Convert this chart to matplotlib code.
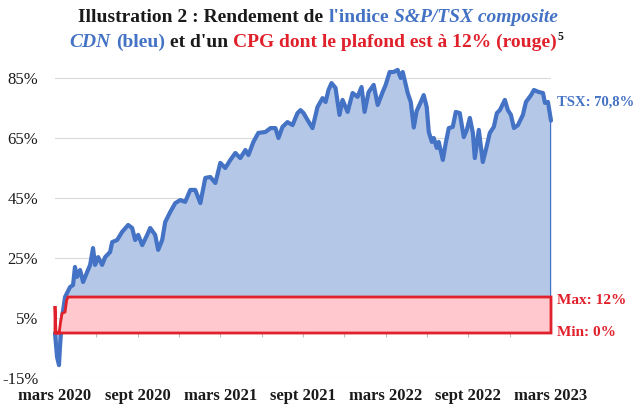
import matplotlib
matplotlib.use('Agg')
import matplotlib.pyplot as plt
import numpy as np

# months elapsed since March 2020, and cumulative TSX return (%)
mois = [0, 0.15, 0.29, 0.36, 0.51, 0.73, 0.95, 1.09, 1.31, 1.45, 1.6, 1.82, 2.04, 2.33,
        2.55, 2.76, 2.91, 3.13, 3.42, 3.64, 4.0, 4.15, 4.51, 4.87, 5.31, 5.6, 5.82, 6.04,
        6.33, 6.69, 6.91, 7.27, 7.49, 7.78, 8.0, 8.36, 8.73, 9.09, 9.45, 9.82, 10.18, 10.55,
        10.91, 11.27, 11.64, 12.0, 12.36, 12.73, 13.09, 13.45, 13.82, 14.04, 14.4, 14.76,
        15.27, 15.64, 16.0, 16.22, 16.51, 16.87, 17.24, 17.6, 17.82, 18.04, 18.33, 18.69,
        19.05, 19.42, 19.64, 19.85, 20.07, 20.36, 20.65, 20.87, 21.24, 21.6, 21.96, 22.25,
        22.47, 22.76, 23.13, 23.42, 23.78, 24.0, 24.29, 24.58, 24.87, 25.09, 25.24, 25.6,
        25.82, 26.04, 26.25, 26.55, 26.76, 26.98, 27.13, 27.35, 27.49, 27.71, 27.85, 28.15,
        28.36, 28.58, 28.87, 29.09, 29.38, 29.67, 29.89, 30.11, 30.33, 30.47, 30.76, 31.05,
        31.27, 31.56, 31.85, 32.07, 32.29, 32.65, 32.87, 33.09, 33.31, 33.6, 33.96, 34.18,
        34.55, 34.76, 35.13, 35.42, 35.56, 35.78, 35.85, 36.0]
tsx = [0, -8, -10.7, -4.7, 5, 12, 14, 15.3, 16, 22, 18.7, 21, 17, 20.3,
       22.7, 28.3, 22.7, 25.3, 22.7, 25.3, 27, 30.3, 31, 33.7, 36, 35, 31, 32.7,
       29.3, 32.7, 35, 32.7, 27.7, 31, 37, 40.3, 43.3, 44.3, 43.7, 47.7, 47.7, 43.3,
       51.7, 52, 50, 56.7, 55, 57.7, 60, 58.3, 61, 59.3, 63.7, 66.7,
       67, 68.3, 68.3, 65, 68.7, 70.3, 69.3, 73.3, 74.3, 73.3, 71, 68.3,
       75.3, 78.3, 77, 81, 83.3, 81.7, 72.7, 77.7, 73.7, 80, 78.7, 82,
       73.7, 80.3, 82.7, 76, 80.3, 82.7, 87, 87, 87.7, 85, 87, 80,
       77, 68.5, 74, 77, 79.3, 75.3, 67, 63.7, 65, 61.7, 63.7, 57.7,
       63.3, 68.3, 68.7, 73.7, 73.3, 65.3, 67.7, 71.7, 66.7, 58.3, 67.7, 57,
       61, 66.7, 68.7, 73.3, 74.3, 77.7, 74.3, 72.7, 68.3, 69.3, 72.7, 77,
       79.3, 81, 80.3, 80, 76.7, 77, 75, 70.8]

# CPG capped at 12%, floor at 0%
cpg_mois = [0, 0.07, 0.3, 0.4, 0.51, 0.73, 0.85, 0.95, 36.0]
cpg = [9, 0, 0, 3.5, 6.5, 7, 11, 12, 12]

tick_mois = [0, 6, 12, 18, 24, 30, 36]
tick_labels = ['mars 2020', 'sept 2020', 'mars 2021', 'sept 2021',
               'mars 2022', 'sept 2022', 'mars 2023']
y_ticks = [-15, 5, 25, 45, 65, 85]

BLUE = '#4472C4'
BLUE_FILL = '#B4C7E7'
RED = '#E0202B'
RED_FILL = '#FFC7CE'
SERIF = 'Liberation Serif'

plt.rcParams['font.family'] = SERIF

fig = plt.figure(figsize=(6.4, 4.11), dpi=100)
ax = fig.add_axes([55 / 640, 33 / 411, 496 / 640, 315 / 411])

x = np.array(mois)
y = np.array(tsx)
ax.fill_between(x, y, 0, color=BLUE_FILL, lw=0, zorder=1)
ax.plot(x, y, color=BLUE, lw=3, solid_joinstyle='round', solid_capstyle='round',
        zorder=2, clip_on=False)
ax.vlines(x[-1], 0, y[-1], color=BLUE, lw=1.5, zorder=2)

cx = np.array(cpg_mois)
cy = np.array(cpg)
ax.fill(np.r_[cx, cx[::-1]], np.r_[cy, np.zeros_like(cy)], facecolor=RED_FILL,
        edgecolor=RED, lw=2, zorder=3, clip_on=False)

ax.set_xlim(0, 36)
ax.set_ylim(-15, 90)
ax.set_yticks(y_ticks, [f'{v}%' for v in y_ticks])
ax.set_xticks(tick_mois, tick_labels, fontweight='bold')
ax.tick_params(axis='both', length=0, labelsize=12, colors='#1a1a1a')
ax.tick_params(axis='y', pad=12)
ax.tick_params(axis='x', pad=7)
ax.yaxis.grid(True, color='#D9D9D9', lw=0.8)
ax.set_axisbelow(True)
for s in ax.spines.values():
    s.set_visible(False)

# small ticks on the zero line
sec = ax.secondary_xaxis(15 / 105)
sec.set_xticks(np.arange(3, 36, 3))
sec.tick_params(length=3, color='#BFBFBF', labelbottom=False)
sec.spines['bottom'].set_color('#BFBFBF')

ax.annotate('TSX: 70,8%', xy=(x[-1], y[-1]), xytext=(6, 19), textcoords='offset pixels',
            color=BLUE, fontsize=10.5, fontweight='bold', va='center', ha='left',
            annotation_clip=False)
ax.annotate('Max: 12%', xy=(cx[-1], cy[-1]), xytext=(6, -3), textcoords='offset pixels',
            color=RED, fontsize=11, fontweight='bold', va='center', ha='left',
            annotation_clip=False)
ax.annotate('Min: 0%', xy=(cx[-1], 0), xytext=(6, 0), textcoords='offset pixels',
            color=RED, fontsize=11, fontweight='bold', va='center', ha='left',
            annotation_clip=False)


def title_line(pieces, ypx, size=14, center=318):
    """pieces: (text, color, style, gap_before)"""
    r = fig.canvas.get_renderer()
    probe = fig.text(0, 0, 'a a', fontsize=size, fontweight='bold')
    probe2 = fig.text(0, 0, 'aa', fontsize=size, fontweight='bold')
    space = probe.get_window_extent(r).width - probe2.get_window_extent(r).width
    probe.remove()
    probe2.remove()
    texts, widths, gaps = [], [], []
    for s, color, style, gap in pieces:
        t = fig.text(0, 1 - ypx / 411, s, color=color, fontstyle=style, fontweight='bold',
                     fontsize=size, va='baseline', ha='left')
        texts.append(t)
        widths.append(t.get_window_extent(r).width)
        gaps.append(space if gap else 0)
    total = sum(widths) + sum(gaps)
    pos = center - total / 2
    for t, w, g in zip(texts, widths, gaps):
        pos += g
        t.set_x(pos / 640)
        pos += w
    return texts, pos


fig.canvas.draw()
title_line([('Illustration 2 : Rendement de', '#1a1a1a', 'normal', False),
            ("l'indice", BLUE, 'normal', True),
            ('S&P/TSX composite', BLUE, 'italic', True)], 22)
_, end = title_line([('CDN', BLUE, 'italic', False),
                     ('(bleu)', BLUE, 'normal', True),
                     ("et d'un", '#1a1a1a', 'normal', True),
                     ('CPG dont le plafond est à 12% (rouge)', RED, 'normal', True),
                     ('  ', 'k', 'normal', False)], 47)
fig.text((end - 9) / 640, 1 - 40 / 411, '5', fontsize=8.5, fontweight='bold',
         color='#1a1a1a', va='baseline', ha='left')

fig.savefig('out.png', dpi=100)
